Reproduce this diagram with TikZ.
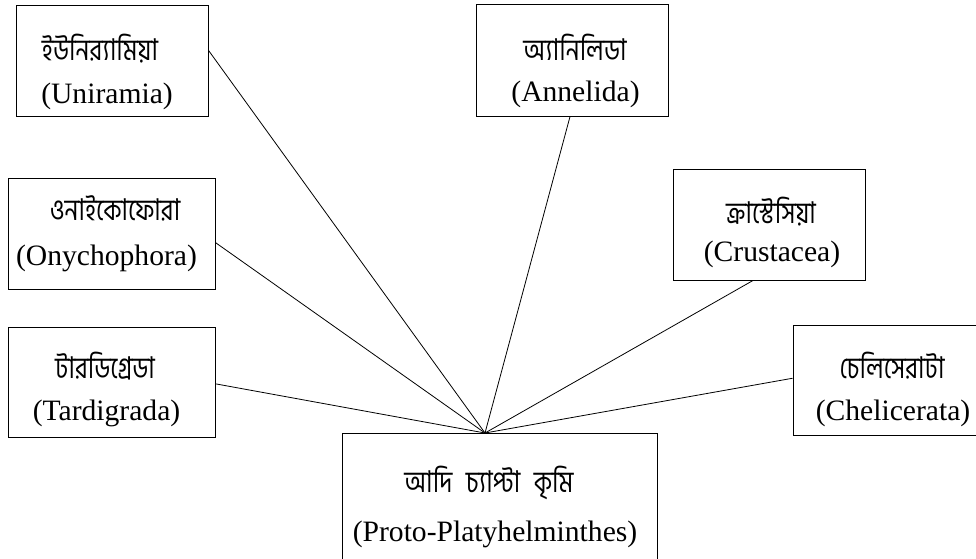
\documentclass[tikz,border=0pt]{standalone}
\usepackage{fontspec}
\setmainfont{Liberation Serif}
\newfontfamily\bn[Script=Bengali,FakeStretch=0.82]{Hind Siliguri}
\begin{document}
\begin{tikzpicture}[x=1pt,y=-1pt,
  box/.style={draw,line width=1pt,inner sep=0pt},
  bnl/.style={anchor=base,inner sep=0pt,font=\bn\fontsize{30}{34}\selectfont},
  lat/.style={anchor=base,inner sep=0pt,font=\fontsize{29.6}{34}\selectfont},
  link/.style={line width=0.8pt}]
\useasboundingbox (0,0) rectangle (976,558);
\clip (0,0) rectangle (976,558);
% boxes
\node[box,minimum width=192pt,minimum height=111pt] (u) at (112,60.5) {};
\node[box,minimum width=192pt,minimum height=112pt] (a) at (572,60) {};
\node[box,minimum width=207pt,minimum height=111pt] (o) at (111.5,233.5) {};
\node[box,minimum width=192pt,minimum height=111pt] (c) at (769,224.5) {};
\node[box,minimum width=207pt,minimum height=110pt] (t) at (111.5,382) {};
\node[box,minimum width=200pt,minimum height=110pt] (ch) at (893,380) {};
\node[box,minimum width=315pt,minimum height=142pt] (p) at (499.5,504) {};
% texts
\node[bnl] (ub) at (100,60) {ইউনির^^^^200d্যামিয়া};
\node[lat] (ul) at (107,103) {(Uniramia)};
\node[bnl] (ab) at (575,60) {অ্যানিলিডা};
\node[lat] (al) at (575.5,101) {(Annelida)};
\node[bnl] (ob) at (115,220) {ওনাইকোফোরা};
\node[lat] (ol) at (106.5,265) {(Onychophora)};
\node[bnl] (cb) at (771,223) {ক্রাস্টেসিয়া};
\node[lat] (cl) at (772,261) {(Crustacea)};
\node[bnl] (tb) at (105,378) {টারডিগ্রেডা};
\node[lat] (tl) at (106.5,420) {(Tardigrada)};
\node[bnl] (chb) at (892,378) {চেলিসেরাটা};
\node[lat] (chl) at (893,420) {(Chelicerata)};
\node[bnl] (pb) at (489,492) {আদি\hspace{0.45em}চ্যাপ্টা\hspace{0.45em}কৃমি};
\node[lat] (pl) at (495,541) {(Proto-Platyhelminthes)};
% connectors
\coordinate (hub) at (485,433);
\draw[link] (u.6) -- (hub);
\draw[link] (a.-92) -- (hub);
\draw[link] (o.-5.2) -- (hub);
\draw[link] (c.-106) -- (hub);
\draw[link] (t.-1.1) -- (hub);
\draw[link] (ch.179.4) -- (hub);
\end{tikzpicture}
\end{document}
